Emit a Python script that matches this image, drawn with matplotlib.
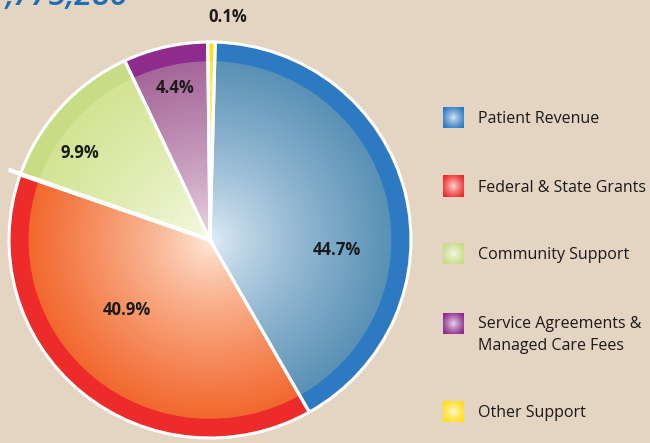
import matplotlib.pyplot as plt
from matplotlib.colors import to_rgb
import numpy as np

# =========================
# DATA
# =========================

categories = ["Patient Revenue", "Federal & State Grants", "Community Support",
              "Service Agreements &\nManaged Care Fees", "Other Support"]
pct_labels = ["44.7%", "40.9%", "9.9%", "4.4%", "0.1%"]
# wedge sizes as they are drawn in the picture (percent of the circle)
wedge_shares = [41.4, 38.6, 12.7, 6.8, 0.6]
total_text = ",775,286"

# colours: outer rim, inner edge, centre of each wedge
rim_colors = ["#2D7AC3", "#EE2B2B", "#C6DC85", "#8E2B8D", "#FFDE17"]
edge_colors = ["#5A91B6", "#F2692F", "#D3E494", "#A6679A", "#FFE64A"]
center_colors = ["#E8F2FA", "#FFF0E2", "#F8FAE8", "#F0E0EA", "#FFFFF0"]
bg = "#E4D4C2"
text_col = "#1A1A1A"

# label positions inside the pie (axes data units)
label_pos = [(0.632, -0.053), (-0.413, -0.356), (-0.647, 0.437),
             (-0.174, 0.770), (0.09, 1.124)]

start = 88.5


def mix(c0, c1, t):
    a = np.array(to_rgb(c0))
    b = np.array(to_rgb(c1))
    return tuple(a + (b - a) * t)


fig = plt.figure(figsize=(6.5, 4.43), dpi=100, facecolor=bg)

# =========================
# LEGEND (drawn in pixel units)
# =========================

lax = fig.add_axes([0, 0, 1, 1])
lax.set_xlim(0, 650)
lax.set_ylim(443, 0)
lax.axis("off")

row_y = [118, 186.5, 254, 323.5, 412]
sq = 21
g = np.linspace(-1, 1, 60)
gx, gy = np.meshgrid(g, g)
dist = np.clip(np.sqrt(gx ** 2 + gy ** 2) / 1.2, 0, 1)
for y, lab, c_edge in zip(row_y, categories, rim_colors):
    c0 = np.array(to_rgb("white"))
    c1 = np.array(to_rgb(c_edge))
    t = (dist ** 0.8)[..., None]
    img = c0 + (c1 - c0) * (0.15 + 0.85 * t)
    lax.imshow(img, extent=(453.5 - sq / 2, 453.5 + sq / 2, y + sq / 2, y - sq / 2),
               interpolation="bilinear", aspect="auto")
    lax.text(478, y - 7, lab, ha="left", va="top", fontsize=11.5, color=text_col,
             family="Open Sans", linespacing=1.45)
lax.set_xlim(0, 650)
lax.set_ylim(443, 0)

# =========================
# PIE
# =========================

ax = fig.add_axes([9 / 650, 5 / 443, 402 / 650, 396 / 443])

# rim band
ax.pie(wedge_shares, radius=1.0, colors=rim_colors, startangle=start,
       counterclock=False, wedgeprops=dict(linewidth=0))

# radial gradient inside the rim
n_rings = 40
for i in range(n_rings):
    t = 1 - i / n_rings
    cols = [mix(c0, c1, t ** 0.75) for c0, c1 in zip(center_colors, edge_colors)]
    wedges, _ = ax.pie(wedge_shares, radius=0.9 * t, colors=cols, startangle=start,
                       counterclock=False, wedgeprops=dict(linewidth=0.8))
    for wd in wedges:
        wd.set_edgecolor(wd.get_facecolor())

# white separators and outline
ax.pie(wedge_shares, radius=1.0, colors=["none"] * len(wedge_shares), startangle=start,
       counterclock=False, wedgeprops=dict(linewidth=2.2, edgecolor="white"))

# the red / green separator runs a little past the rim
ang = np.deg2rad(start - (wedge_shares[0] + wedge_shares[1]) / 100 * 360)
ax.plot([0, 1.063 * np.cos(ang)], [0, 1.063 * np.sin(ang)], color="white",
        lw=3, solid_capstyle="butt", clip_on=False)

for (x, y), lab in zip(label_pos, pct_labels):
    ax.text(x, y, lab, ha="center", va="center", fontsize=12, fontweight="bold",
            color=text_col, family="Open Sans")

ax.set_aspect("auto")
ax.set_xlim(-1, 1)
ax.set_ylim(-1, 1)
ax.axis("off")

# =========================
# TITLE (cut off at the top)
# =========================

fig.text(128 / 650, 1 - 5 / 443, total_text, ha="right", va="baseline", fontsize=23,
         style="italic", color="#1F6DB4", family="Open Sans", fontweight="semibold")

plt.savefig("out.png", dpi=100, facecolor=bg)
plt.close()
